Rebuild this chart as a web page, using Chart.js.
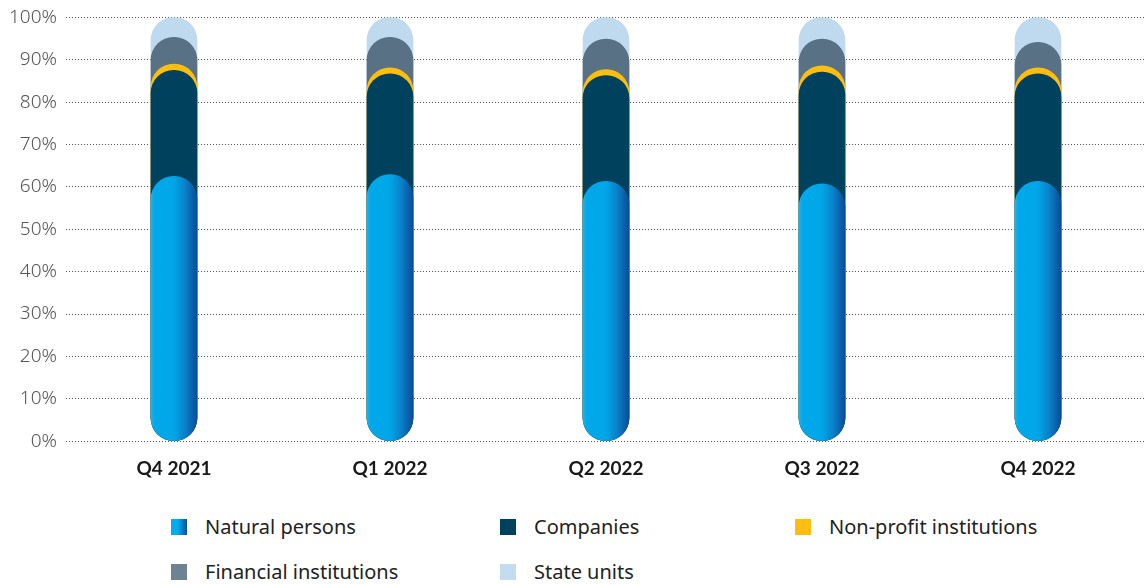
<!DOCTYPE html>
<html>
<head>
<meta charset="utf-8">
<script src="https://cdn.jsdelivr.net/npm/chart.js@4.4.1/dist/chart.umd.min.js"></script>
<style>
    html, body { margin: 0; padding: 0; background: #fff; }
    body { width: 1146px; height: 585px; overflow: hidden; position: relative; font-family: "Noto Sans", sans-serif; }
    #wrap { position: absolute; left: 0; top: -3px; width: 1146px; height: 491px; }
    #legend { position: absolute; left: 171px; top: 513px; width: 960px; }
    .item { position: absolute; display: flex; align-items: center; font-size: 20px; color: #222; white-space: nowrap; }
    .swatch { width: 16px; height: 16px; margin-right: 18px; }
</style>
</head>
<body>
<div id="wrap"><canvas id="chart"></canvas></div>
<div id="legend"></div>
<script>
// Quarters shown on the x axis
const quarters = ['Q4 2021', 'Q1 2022', 'Q2 2022', 'Q3 2022', 'Q4 2022'];

// Share of each holder group, in percent
const naturalPersons = [62.5, 62.9, 61.3, 60.7, 61.3];
const companies = [25.0, 23.8, 25.0, 26.4, 25.4];
const nonProfit = [1.5, 1.4, 1.4, 1.5, 1.4];
const financial = [6.3, 7.2, 7.2, 6.3, 6.0];
const stateUnits = [4.7, 4.7, 5.1, 5.1, 5.9];

const yTicks = [0, 10, 20, 30, 40, 50, 60, 70, 80, 90, 100];

const BAR_W = 46;

const groups = [
    { label: 'Natural persons', values: naturalPersons, color: '#00a9eb', legend: 'linear-gradient(to right, #00aeef 40%, #0a4f9e)' },
    { label: 'Companies', values: companies, color: '#00415e', legend: '#00415e' },
    { label: 'Non-profit institutions', values: nonProfit, color: '#fdbe10', legend: '#fdbe10' },
    { label: 'Financial institutions', values: financial, color: '#587185', legend: '#6e8294' },
    { label: 'State units', values: stateUnits, color: '#bfd9ef', legend: '#c4dcf0' }
];

// each pill runs from 0 up to the running total, front ones drawn last
function cumulative(idx) {
    return quarters.map((q, i) => {
        let sum = 0;
        for (let k = 0; k <= idx; k++) sum += groups[k].values[i];
        return Math.round(sum * 10) / 10;
    });
}

function naturalGradient(ctx) {
    const chart = ctx.chart;
    if (!chart.chartArea || ctx.dataIndex === undefined) return '#00a9eb';
    const x = chart.scales.x.getPixelForValue(ctx.dataIndex);
    const g = chart.ctx.createLinearGradient(x - BAR_W / 2, 0, x + BAR_W / 2, 0);
    g.addColorStop(0, '#1ab2f0');
    g.addColorStop(0.08, '#00a9eb');
    g.addColorStop(0.5, '#00a6e8');
    g.addColorStop(0.75, '#0a7fc8');
    g.addColorStop(1, '#0b4c99');
    return g;
}

const datasets = groups.map((grp, idx) => ({
    label: grp.label,
    data: cumulative(idx),
    backgroundColor: idx === 0 ? naturalGradient : grp.color,
    borderWidth: 0,
    borderRadius: BAR_W / 2,
    borderSkipped: false,
    barThickness: BAR_W,
    grouped: false
}));

new Chart(document.getElementById('chart'), {
    type: 'bar',
    data: { labels: quarters, datasets: datasets },
    options: {
        responsive: true,
        maintainAspectRatio: false,
        animation: false,
        layout: { padding: { top: 0, right: 0, left: 0, bottom: 0 } },
        plugins: {
            legend: { display: false },
            tooltip: { enabled: false }
        },
        scales: {
            x: {
                grid: { display: false },
                border: { display: false },
                ticks: {
                    color: '#1a1a1a',
                    padding: 8,
                    font: { family: 'Lato, "Noto Sans", sans-serif', size: 19, weight: 'bold' }
                }
            },
            y: {
                min: 0,
                max: 100,
                afterBuildTicks: axis => { axis.ticks = yTicks.map(v => ({ value: v })); },
                border: { display: false, dash: [1, 2] },
                grid: {
                    color: '#555',
                    lineWidth: 1,
                    drawTicks: false
                },
                ticks: {
                    color: '#555',
                    padding: 9,
                    font: { family: '"Noto Sans", sans-serif', size: 19, weight: 300 },
                    callback: v => v + '%'
                }
            }
        }
    }
});

// legend laid out in three columns under the plot
const legendPos = [[0, 0], [329, 0], [624, 0], [0, 45], [329, 45]];
const legendBox = document.getElementById('legend');
groups.forEach((grp, i) => {
    const item = document.createElement('div');
    item.className = 'item';
    item.style.left = legendPos[i][0] + 'px';
    item.style.top = legendPos[i][1] + 'px';
    item.innerHTML = `<span class="swatch" style="background:${grp.legend}"></span><span>${grp.label}</span>`;
    legendBox.appendChild(item);
});
</script>
</body>
</html>
